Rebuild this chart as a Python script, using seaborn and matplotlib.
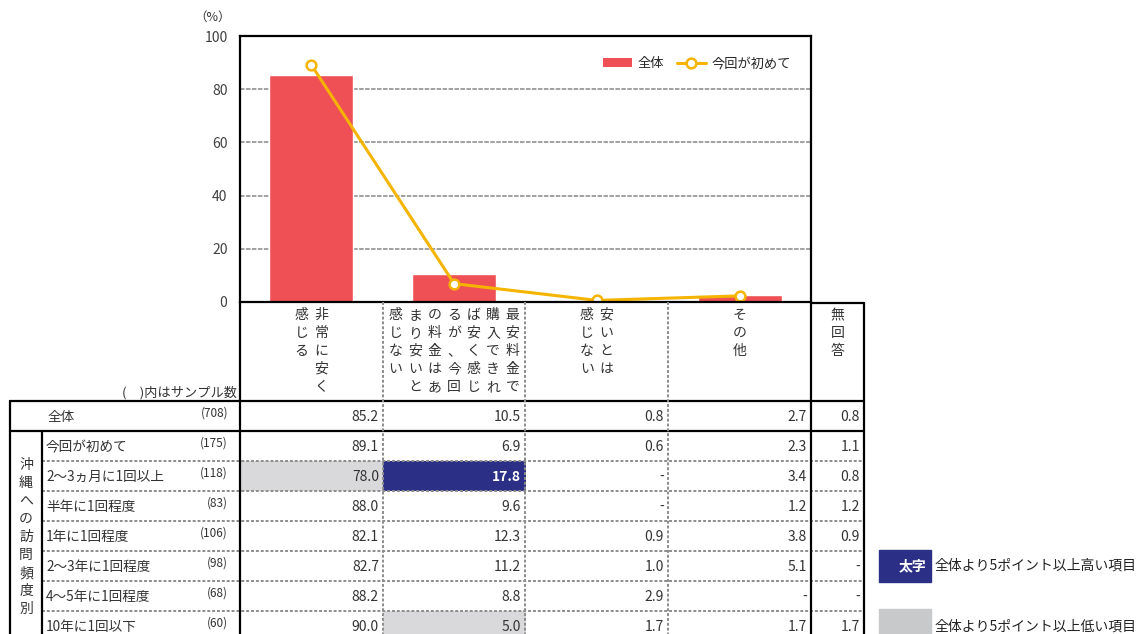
import numpy as np
import matplotlib
matplotlib.use('Agg')
import matplotlib.pyplot as plt
import seaborn as sns
from matplotlib.colors import ListedColormap
from matplotlib.patches import Patch, Rectangle
from matplotlib.lines import Line2D

sns.set_theme(style='white')
plt.rcParams['font.family'] = ['Noto Sans CJK JP', 'DejaVu Sans']

# --- data ---------------------------------------------------------------
cat_keys = ['very_cheap', 'cheap_if_lowest', 'not_cheap', 'other']
header_cols = [
    ['非常に安く', '感じる'],
    ['最安料金で', '購入できれ', 'ば安く感じ', 'るが、今回', 'の料金はあ', 'まり安いと', '感じない'],
    ['安いとは', '感じない'],
    ['その他'],
    ['無回答'],
]
row_labels = ['全体', '今回が初めて', '2～3ヵ月に1回以上', '半年に1回程度',
              '1年に1回程度', '2～3年に1回程度', '4～5年に1回程度', '10年に1回以下']
samples = [708, 175, 118, 83, 106, 98, 68, 60]
group_label = '沖縄への訪問頻度別'

nan = np.nan
very_cheap = [85.2, 89.1, 78.0, 88.0, 82.1, 82.7, 88.2, 90.0]
cheap_if_lowest = [10.5, 6.9, 17.8, 9.6, 12.3, 11.2, 8.8, 5.0]
not_cheap = [0.8, 0.6, nan, nan, 0.9, 1.0, 2.9, 1.7]
other = [2.7, 2.3, 3.4, 1.2, 3.8, 5.1, nan, 1.7]
no_answer = [0.8, 1.1, 0.8, 1.2, 0.9, nan, nan, 1.7]

table = np.array([very_cheap, cheap_if_lowest, not_cheap, other, no_answer]).T  # rows x cols
overall = table[0, :4]
first_time = table[1, :4]

# --- style --------------------------------------------------------------
bar_color = '#EF5055'
line_color = '#F5B400'
navy = '#2B2F85'
gray_cell = '#D9D9DB'
gray_key = '#C8C9CB'
txt = '#333333'
dot_style = dict(color='#8C8C8C', linestyle=(0, (1.5, 1.0)), lw=1.4)
solid_style = dict(color='black', lw=1.6)

W, H = 1141, 634
col_edges = [240, 383, 525, 668, 811, 864]
row_top0, row_h = 401, 30


def fx(x):
    return x / W


def fy(y):
    return 1 - y / H


fig = plt.figure(figsize=(W / 100, H / 100), dpi=100)

# --- bar + line chart -----------------------------------------------------
ax = fig.add_axes([fx(240), fy(302), fx(811) - fx(240), fy(36) - fy(302)])
sns.barplot(x=cat_keys, y=overall, color=bar_color, saturation=1, width=0.59, ax=ax)
sns.pointplot(x=cat_keys, y=first_time, color=line_color, markers='o', errorbar=None,
              linewidth=2.2, markersize=7, markeredgewidth=1.8, markerfacecolor='white', ax=ax)
for ln in ax.lines:
    ln.set_markerfacecolor('white')
    ln.set_markeredgecolor(line_color)
ax.set_xlim(-0.5, 3.5)
ax.set_ylim(0, 100)
ax.set_yticks(range(0, 101, 20))
ax.set_xticks([])
ax.set_xlabel('')
ax.set_ylabel('')
ax.yaxis.grid(True, color='#9A9A9A', linestyle=(0, (2.5, 0.8)), lw=1.3)
ax.set_axisbelow(True)
for sp in ax.spines.values():
    sp.set_color('black')
    sp.set_linewidth(1.6)
ax.tick_params(axis='y', direction='in', length=4, width=1.2, color='black',
               pad=9, labelsize=10, labelcolor='#404040')

handles = [Patch(facecolor=bar_color, edgecolor='none'),
           Line2D([], [], color=line_color, lw=2.2, marker='o', markersize=7,
                  markerfacecolor='white', markeredgecolor=line_color, markeredgewidth=1.8)]
ax.legend(handles, ['全体', '今回が初めて'], loc='upper right', bbox_to_anchor=(0.985, 0.965),
          ncol=2, frameon=False, fontsize=9.5, handlelength=2.2, handleheight=0.6,
          handletextpad=0.4, columnspacing=1.0)

# --- highlight cells (heatmap) -------------------------------------------
sub = table[1:, :4]
codes = np.zeros(sub.shape, dtype=int)
codes[sub >= overall + 5] = 1
codes[sub <= overall - 5] = 2
n_sub = sub.shape[0]
hax = fig.add_axes([fx(240), fy(row_top0 + row_h * (n_sub + 1)), fx(811) - fx(240), row_h * n_sub / H])
sns.heatmap(codes, cmap=ListedColormap(['white', navy, gray_cell]), vmin=-0.5, vmax=2.5,
            cbar=False, xticklabels=False, yticklabels=False, ax=hax)
hax.axis('off')

# --- overlay: table lines and texts ----------------------------------------
ov = fig.add_axes([0, 0, 1, 1])
ov.set_xlim(0, W)
ov.set_ylim(H, 0)
ov.axis('off')

n_rows = len(row_labels)
bottom = row_top0 + row_h * n_rows
ov.plot([10, 864], [row_top0, row_top0], **solid_style)
ov.plot([10, 864], [row_top0 + row_h, row_top0 + row_h], **solid_style)
for i in range(2, n_rows):
    y = row_top0 + row_h * i
    ov.plot([42, 864], [y, y], **dot_style)
ov.plot([10, 10], [row_top0, bottom], **solid_style)
ov.plot([42, 42], [row_top0 + row_h, bottom], **solid_style)
ov.plot([240, 240], [302, bottom], **solid_style)
for x in col_edges[1:4]:
    ov.plot([x, x], [302, bottom], **dot_style)
ov.plot([811, 811], [302, bottom], **solid_style)
ov.plot([812, 864], [303, 303], **solid_style)
ov.plot([864, 864], [303, bottom], **solid_style)


def vtext(cols, xc, y0, px=19.5, py=18, size=10, color=txt):
    n = len(cols)
    for j, s in enumerate(cols):
        x = xc + (n - 1) / 2 * px - j * px
        for i, ch in enumerate(s):
            ov.text(x, y0 + i * py, ch, ha='center', va='center', fontsize=size, color=color)


for k, cols in enumerate(header_cols):
    xc = (col_edges[k] + col_edges[k + 1]) / 2
    vtext(cols, xc, 315)

vtext([group_label], 26, 465)

ov.text(213, 17, '（%）', ha='center', va='center', fontsize=9, color=txt)
ov.text(237, 393, '(　)内はサンプル数', ha='right', va='center', fontsize=9.5, color=txt)

for r, lab in enumerate(row_labels):
    yc = row_top0 + row_h * r + row_h / 2 + 1
    ov.text(48 if r == 0 else 46, yc, lab, ha='left', va='center', fontsize=9.8, color=txt)
    ov.text(228, yc - 4, f'({samples[r]})', ha='right', va='center', fontsize=8.5, color=txt)
    for c in range(table.shape[1]):
        v = table[r, c]
        s = '-' if np.isnan(v) else f'{v:.1f}'
        hi = r > 0 and c < 4 and codes[r - 1, c] == 1
        ov.text(col_edges[c + 1] - 4, yc, s, ha='right', va='center', fontsize=10,
                color='white' if hi else txt, fontweight='bold' if hi else 'normal')

# key for highlight colours
ov.add_patch(Rectangle((879, 550), 52, 32, color=navy))
ov.text(926, 566, '太字', ha='right', va='center', fontsize=10, color='white', fontweight='bold')
ov.text(935, 566, '全体より5ポイント以上高い項目', ha='left', va='center', fontsize=10, color='#222222')
ov.add_patch(Rectangle((879, 609), 52, 30, color=gray_key))
ov.text(935, 627, '全体より5ポイント以上低い項目', ha='left', va='center', fontsize=10, color='#222222')

fig.savefig('out.png', dpi=100)
